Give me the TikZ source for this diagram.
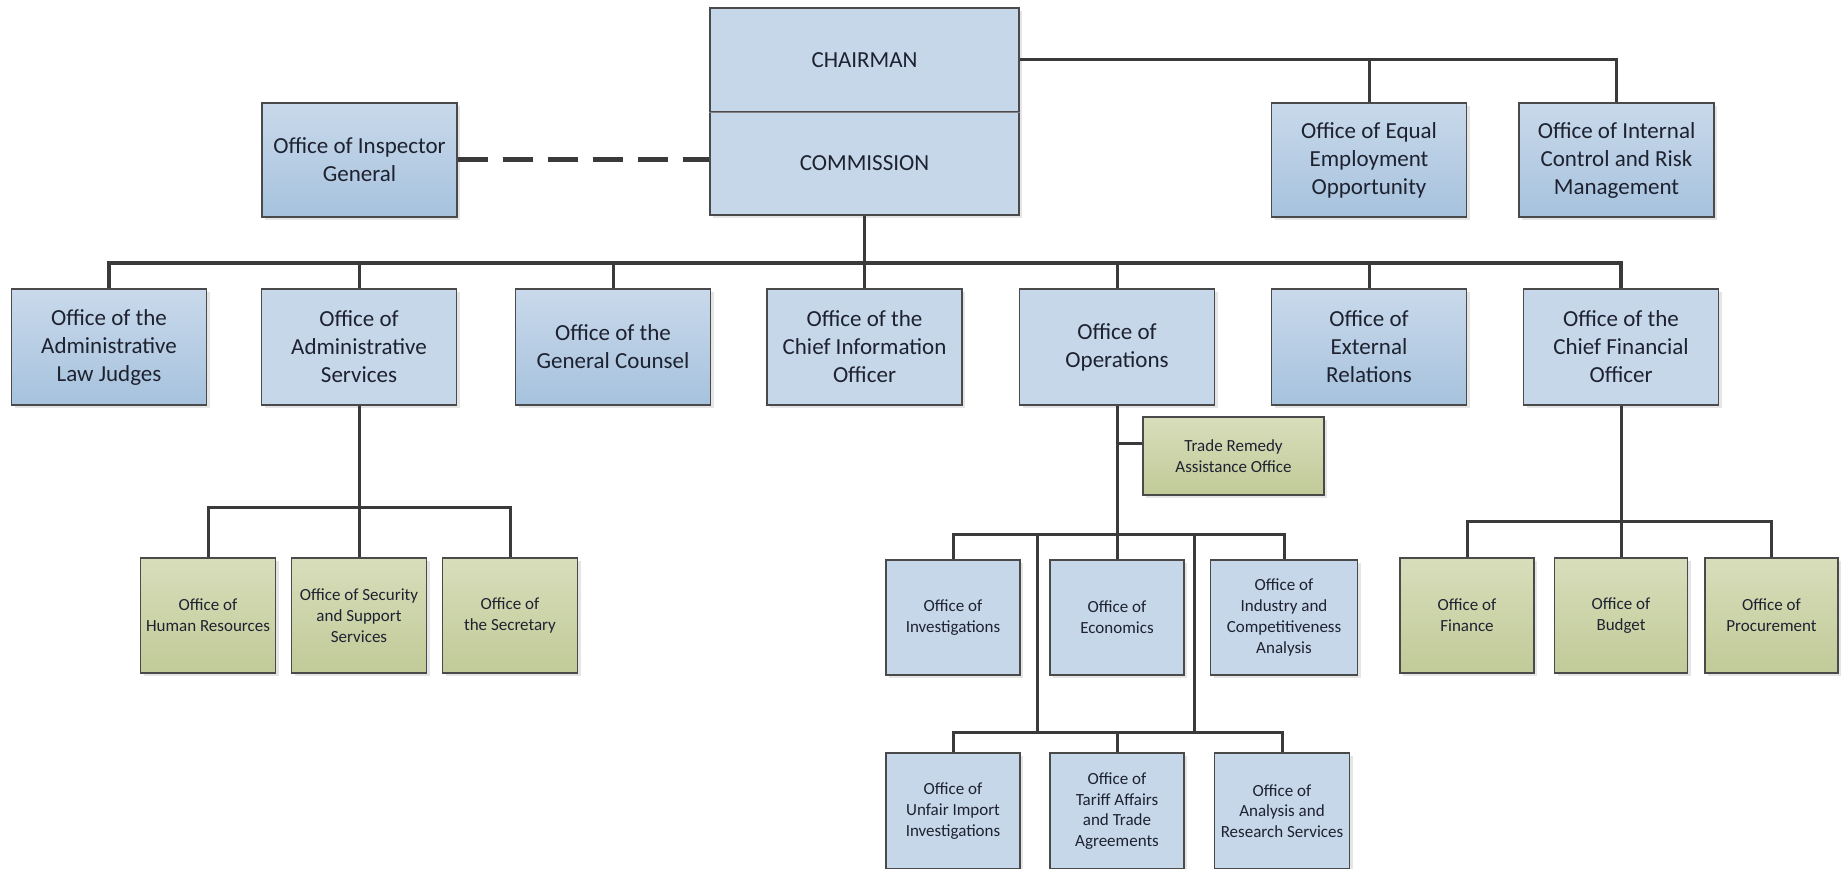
\documentclass[tikz,border=0pt]{standalone}
\usepackage{fontspec}
\setmainfont{Carlito}
\usetikzlibrary{shadows}
\definecolor{lb}{HTML}{C6D7E9}
\definecolor{dbt}{HTML}{C9D9EB}
\definecolor{dbb}{HTML}{A6C2DD}
\definecolor{gt}{HTML}{D8DEBB}
\definecolor{gb}{HTML}{C1CA98}
\definecolor{ln}{HTML}{3A3A3A}
\definecolor{bd}{HTML}{4A4A4A}
\definecolor{tx}{HTML}{1E2230}
\tikzset{
  box/.style={draw=bd, line width=1.3pt, align=center, inner sep=2pt, text=tx,
    drop shadow={shadow xshift=3pt, shadow yshift=-3pt, opacity=0.2}},
  bigbox/.style={box, font=\fontsize{23}{28}\selectfont, minimum width=195pt, minimum height=116pt},
  smallbox/.style={box, font=\fontsize{17}{20.7}\selectfont, minimum height=115pt},
  flatblue/.style={fill=lb},
  gradblue/.style={top color=dbt, bottom color=dbb},
  greenbox/.style={top color=gt, bottom color=gb},
  conn/.style={draw=ln, line width=3pt},
  dashconn/.style={draw=ln, line width=5pt, dash pattern=on 30pt off 15pt},
}
\begin{document}
\begin{tikzpicture}[x=1pt,y=-1pt]
\useasboundingbox (0,0) rectangle (1843,869);
\fill[white] (0,0) rectangle (1843,869);

% top
\node[bigbox, flatblue, minimum width=309pt, minimum height=104pt] (chair) at (864.5,60) {CHAIRMAN};
\node[bigbox, flatblue, minimum width=309pt, minimum height=103pt] (comm) at (864.5,163.5) {COMMISSION};
\draw[draw=gray, line width=1pt] (chair.south west) -- (chair.south east);
\node[bigbox, gradblue, minimum height=114pt] (ig) at (359.5,160) {Office of Inspector\\General};
\node[bigbox, gradblue, minimum height=114pt] (eeo) at (1369,160) {Office of Equal\\Employment\\Opportunity};
\node[bigbox, gradblue, minimum height=114pt] (icrm) at (1616.5,160) {Office of Internal\\Control and Risk\\Management};

% level 2
\node[bigbox, gradblue] (alj) at (109,347) {Office of the\\Administrative\\Law Judges};
\node[bigbox, flatblue] (oas) at (359,347) {Office of\\Administrative\\Services};
\node[bigbox, gradblue] (ogc) at (613,347) {Office of the\\General Counsel};
\node[bigbox, flatblue] (ocio) at (864.5,347) {Office of the\\Chief Information\\Officer};
\node[bigbox, flatblue] (oop) at (1117,347) {Office of\\Operations};
\node[bigbox, gradblue] (oer) at (1369,347) {Office of\\External\\Relations};
\node[bigbox, flatblue] (ocfo) at (1621,347) {Office of the\\Chief Financial\\Officer};

% under administrative services
\node[smallbox, greenbox, minimum width=135pt] (ohr) at (208,615.5) {Office of\\Human Resources};
\node[smallbox, greenbox, minimum width=135pt] (oss) at (359,615.5) {Office of Security\\and Support\\Services};
\node[smallbox, greenbox, minimum width=135pt] (osec) at (510,615.5) {Office of\\the Secretary};

% under operations
\node[smallbox, greenbox, minimum width=181pt, minimum height=78pt] (trao) at (1233.5,456) {Trade Remedy\\Assistance Office};
\node[smallbox, flatblue, minimum width=134pt] (oinv) at (953,617.5) {Office of\\Investigations};
\node[smallbox, flatblue, minimum width=134pt] (oec) at (1117,617.5) {Office of\\Economics};
\node[smallbox, flatblue, minimum width=147pt] (oind) at (1284,617.5) {Office of\\Industry and\\Competitiveness\\Analysis};
\node[smallbox, flatblue, minimum width=134pt, minimum height=116pt] (oui) at (953,811) {Office of\\Unfair Import\\Investigations};
\node[smallbox, flatblue, minimum width=134pt, minimum height=116pt] (ota) at (1117,811) {Office of\\Tariff Affairs\\and Trade\\Agreements};
\node[smallbox, flatblue, minimum width=135pt, minimum height=116pt] (oars) at (1282,811) {Office of\\Analysis and\\Research Services};

% under CFO
\node[smallbox, greenbox, minimum width=134pt] (ofin) at (1467,615.5) {Office of\\Finance};
\node[smallbox, greenbox, minimum width=133pt] (obud) at (1621,615.5) {Office of\\Budget};
\node[smallbox, greenbox, minimum width=133pt] (oproc) at (1771.5,615.5) {Office of\\Procurement};

% connectors
\draw[dashconn] (ig.east) -- (ig.east -| comm.west);
\draw[conn] (chair.east) -| (icrm.north);
\draw[conn] (chair.east -| eeo.north) -- (eeo.north);

\coordinate (b2) at (864.5,263);
\draw[conn] (comm.south) -- (ocio.north);
\draw[conn, line width=3.5pt] (alj.north) |- (b2) -| (ocfo.north);
\foreach \n in {oas,ogc,oop,oer} \draw[conn] (\n.north) -- (\n.north |- b2);

\coordinate (b3) at (359,507);
\draw[conn] (oas.south) -- (oss.north);
\draw[conn] (ohr.north) |- (b3) -| (osec.north);

\draw[conn] (oop.south) -- (oec.north);
\draw[conn] ([yshift=13pt]trao.west) -- ([yshift=13pt]trao.west -| oop.south);
\coordinate (b4) at (1117,534);
\draw[conn] (oinv.north) |- (b4) -| (oind.north);
\coordinate (v1) at (1037,534);
\coordinate (v2) at (1194,534);
\coordinate (b5) at (1117,732);
\draw[conn] (oui.north) |- (b5) -| (oars.north);
\draw[conn] (ota.north) -- (ota.north |- b5);
\draw[conn] (v1) -- (v1 |- b5);
\draw[conn] (v2) -- (v2 |- b5);

\coordinate (b6) at (1621,521);
\draw[conn] (ocfo.south) -- (obud.north);
\draw[conn] (ofin.north) |- (b6) -| (oproc.north);
\end{tikzpicture}
\end{document}
